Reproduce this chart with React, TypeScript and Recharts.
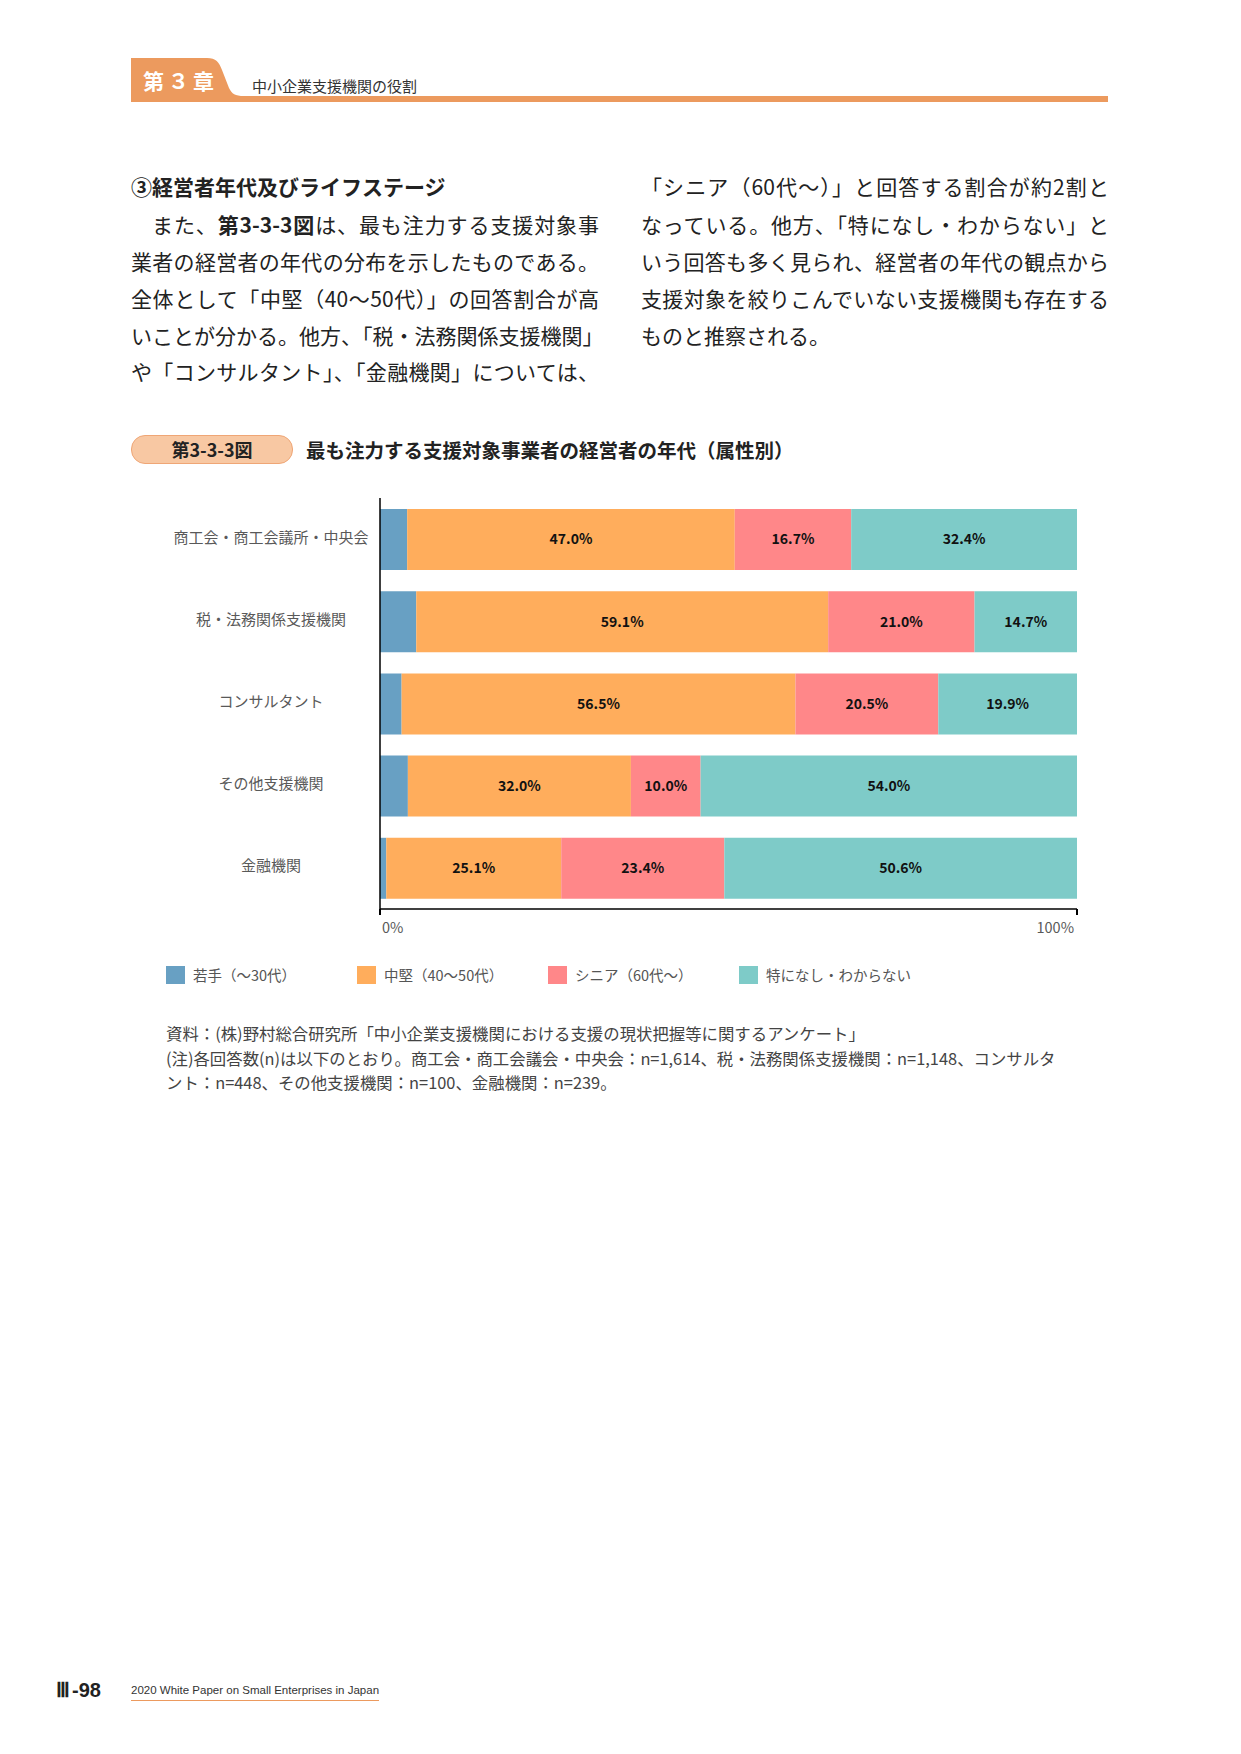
import React from 'react';
import { BarChart, Bar, XAxis, YAxis, LabelList } from 'recharts';

// Attribute categories (rows of the stacked bar chart)
const categories = [
  '商工会・商工会議所・中央会',
  '税・法務関係支援機関',
  'コンサルタント',
  'その他支援機関',
  '金融機関',
];

// Share of answers per age group (%)
const youngShare = [3.9, 5.2, 3.1, 4.0, 0.9];
const middleShare = [47.0, 59.1, 56.5, 32.0, 25.1];
const seniorShare = [16.7, 21.0, 20.5, 10.0, 23.4];
const noneShare = [32.4, 14.7, 19.9, 54.0, 50.6];

const seriesKeys = ['young', 'middle', 'senior', 'none'];
const seriesNames = ['若手（～30代）', '中堅（40～50代）', 'シニア（60代～）', '特になし・わからない'];
const seriesColors = ['#68A0C3', '#FFAD5C', '#FF8789', '#7ECBC8'];
const seriesLabelled = [false, true, true, true];

const xTicks = [0, 100];

const data = categories.map((name, i) => ({
  name,
  young: youngShare[i],
  middle: middleShare[i],
  senior: seniorShare[i],
  none: noneShare[i],
}));

const JP = '"Noto Sans CJK JP", "Noto Sans", sans-serif';
const ORANGE = '#EC9A5E';

const CategoryTick = (props: any) => {
  const { x, y, payload } = props;
  return (
    <text
      x={x - 109}
      y={y - 3}
      textAnchor="middle"
      dominantBaseline="central"
      fill="#595959"
      fontSize={15}
      fontFamily={JP}
    >
      {payload.value}
    </text>
  );
};

const ValueTick = (props: any) => {
  const { x, y, payload } = props;
  const atStart = payload.value === xTicks[0];
  return (
    <text
      x={atStart ? x + 2 : x - 3}
      y={y + 9}
      textAnchor={atStart ? 'start' : 'end'}
      dominantBaseline="central"
      fill="#595959"
      fontSize={14.5}
      fontFamily={JP}
    >
      {payload.value}%
    </text>
  );
};

const bodyLine = (
  left: number,
  centerY: number,
  content: React.ReactNode,
  justify: boolean,
  bold = false,
  indent = 0,
) => (
  <div
    style={{
      position: 'absolute',
      left: left + indent,
      top: centerY - 18.5,
      width: 468 - indent,
      height: 37,
      lineHeight: '37px',
      fontSize: 21,
      fontWeight: bold ? 700 : 400,
      color: '#222',
      whiteSpace: 'nowrap',
      textAlign: justify ? 'justify' : 'left',
      textAlignLast: justify ? 'justify' : 'left',
    } as React.CSSProperties}
  >
    {content}
  </div>
);

const noteLines = [
  '資料：(株)野村総合研究所「中小企業支援機関における支援の現状把握等に関するアンケート」',
  '(注)各回答数(n)は以下のとおり。商工会・商工会議会・中央会：n=1,614、税・法務関係支援機関：n=1,148、コンサルタ',
  'ント：n=448、その他支援機関：n=100、金融機関：n=239。',
];

export default function App() {
  const lineY = [186, 224, 261, 298, 335, 371];
  return (
    <div
      style={{
        position: 'absolute',
        left: 0,
        top: 0,
        width: 1241,
        height: 1754,
        background: '#fff',
        fontFamily: JP,
        overflow: 'hidden',
      }}
    >
      {/* Chapter header tab and rule */}
      <svg width={1241} height={110} style={{ position: 'absolute', left: 0, top: 0 }}>
        <rect x={131} y={96} width={977} height={6} fill={ORANGE} />
        <path
          d="M131,58 H207 C216,58 219,62 222,70 L229,88 C232,94 235,96 244,96 V102 H131 Z"
          fill={ORANGE}
        />
        <text
          x={143}
          y={80}
          dominantBaseline="central"
          fill="#fff"
          fontSize={21}
          fontWeight={700}
          letterSpacing={4}
          fontFamily={JP}
        >
          第３章
        </text>
        <text x={252} y={85} dominantBaseline="central" fill="#333" fontSize={15} fontFamily={JP}>
          中小企業支援機関の役割
        </text>
      </svg>

      {/* Body text, left column */}
      {bodyLine(131, lineY[0], '③経営者年代及びライフステージ', false, true)}
      {bodyLine(
        131,
        lineY[1],
        <>
          また、<b>第3-3-3図</b>は、最も注力する支援対象事
        </>,
        true,
        false,
        21,
      )}
      {bodyLine(131, lineY[2], '業者の経営者の年代の分布を示したものである。', true)}
      {bodyLine(131, lineY[3], '全体として「中堅（40～50代）」の回答割合が高', true)}
      {bodyLine(131, lineY[4], 'いことが分かる。他方、「税・法務関係支援機関」', true)}
      {bodyLine(131, lineY[5], 'や「コンサルタント」、「金融機関」については、', true)}

      {/* Body text, right column */}
      {bodyLine(641, lineY[0], '「シニア（60代～）」と回答する割合が約2割と', true)}
      {bodyLine(641, lineY[1], 'なっている。他方、「特になし・わからない」と', true)}
      {bodyLine(641, lineY[2], 'いう回答も多く見られ、経営者の年代の観点から', true)}
      {bodyLine(641, lineY[3], '支援対象を絞りこんでいない支援機関も存在する', true)}
      {bodyLine(641, lineY[4], 'ものと推察される。', false)}

      {/* Figure caption */}
      <div
        style={{
          position: 'absolute',
          left: 131,
          top: 435,
          width: 160,
          height: 27,
          borderRadius: 14,
          background: '#F8C8A3',
          border: '1px solid #EFA676',
          textAlign: 'center',
          lineHeight: '27px',
          fontSize: 18,
          fontWeight: 700,
          color: '#222',
        }}
      >
        第3-3-3図
      </div>
      <div
        style={{
          position: 'absolute',
          left: 306,
          top: 436,
          height: 28,
          lineHeight: '28px',
          fontSize: 19.5,
          fontWeight: 700,
          color: '#222',
          whiteSpace: 'nowrap',
        }}
      >
        最も注力する支援対象事業者の経営者の年代（属性別）
      </div>

      {/* Stacked bar chart */}
      <div style={{ position: 'absolute', left: 0, top: 440 }}>
        <BarChart
          width={1100}
          height={530}
          data={data}
          layout="vertical"
          margin={{ top: 58, right: 23, left: 0, bottom: 21 }}
        >
          <XAxis
            type="number"
            domain={[0, 100]}
            allowDataOverflow
            ticks={xTicks}
            height={40}
            axisLine={{ stroke: '#000', strokeWidth: 1.3 }}
            tickLine={{ stroke: '#000', strokeWidth: 2 }}
            tickSize={6}
            tick={<ValueTick />}
          />
          <YAxis
            type="category"
            dataKey="name"
            width={380}
            axisLine={{ stroke: '#000', strokeWidth: 1.5 }}
            tickLine={false}
            tickSize={0}
            tickMargin={0}
            tick={<CategoryTick />}
          />
          {seriesKeys.map((key, i) => (
            <Bar
              key={key}
              dataKey={key}
              name={seriesNames[i]}
              stackId="share"
              fill={seriesColors[i]}
              barSize={61}
              isAnimationActive={false}
            >
              {seriesLabelled[i] && (
                <LabelList
                  dataKey={key}
                  position="center"
                  formatter={(v: any) => `${Number(v).toFixed(1)}%`}
                  fill="#111"
                  fontSize={14}
                  fontWeight={700}
                  fontFamily={JP}
                />
              )}
            </Bar>
          ))}
        </BarChart>
      </div>

      {/* Legend */}
      <div style={{ position: 'absolute', left: 166, top: 965, display: 'flex' }}>
        {seriesNames.map((name, i) => (
          <div key={name} style={{ width: 191, display: 'flex', alignItems: 'center', height: 19 }}>
            <div style={{ width: 19, height: 18, background: seriesColors[i], marginRight: 8 }} />
            <span style={{ fontSize: 14.5, color: '#555', whiteSpace: 'nowrap' }}>{name}</span>
          </div>
        ))}
      </div>

      {/* Source and notes */}
      {noteLines.map((line, i) => (
        <div
          key={i}
          style={{
            position: 'absolute',
            left: 166,
            top: 1021 + i * 24.5,
            height: 24,
            lineHeight: '24px',
            fontSize: 16.4,
            color: '#444',
            whiteSpace: 'nowrap',
          }}
        >
          {line}
        </div>
      ))}

      {/* Page footer */}
      <div
        style={{
          position: 'absolute',
          left: 56,
          top: 1677,
          height: 26,
          lineHeight: '26px',
          fontSize: 20,
          fontWeight: 700,
          color: '#222',
          fontFamily: '"Liberation Serif", serif',
          whiteSpace: 'nowrap',
        }}
      >
        Ⅲ<span style={{ fontFamily: '"Liberation Sans", sans-serif', marginLeft: 2 }}>-98</span>
      </div>
      <div
        style={{
          position: 'absolute',
          left: 131,
          top: 1681,
          height: 18,
          lineHeight: '18px',
          fontSize: 11.5,
          color: '#333',
          fontFamily: '"Liberation Sans", Arial, sans-serif',
          whiteSpace: 'nowrap',
          borderBottom: `1px solid ${ORANGE}`,
          paddingBottom: 1,
        }}
      >
        2020 White Paper on Small Enterprises in Japan
      </div>
    </div>
  );
}
